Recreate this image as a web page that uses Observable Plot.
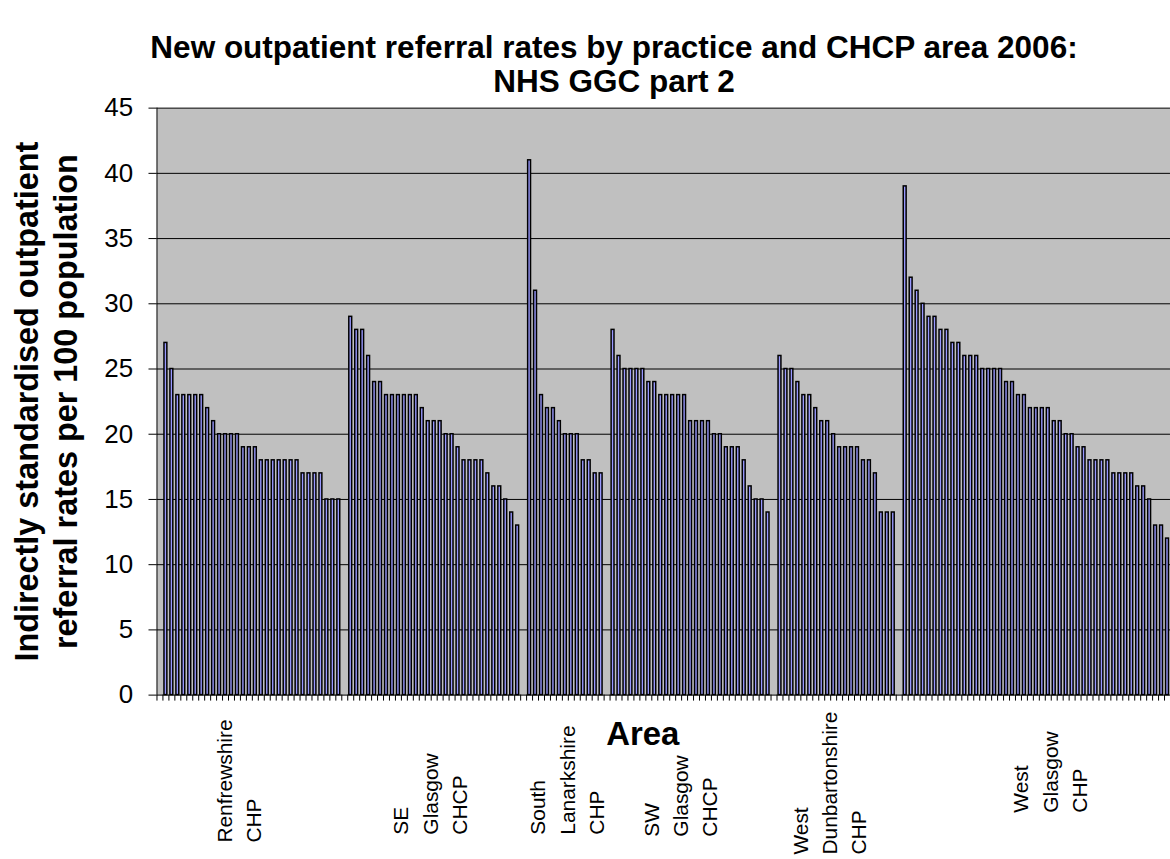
<!DOCTYPE html>
<html>
<head>
<meta charset="utf-8">
<script src="https://cdn.jsdelivr.net/npm/d3@7"></script>
<script src="https://cdn.jsdelivr.net/npm/@observablehq/plot@0.6"></script>
<style>
  html, body { margin: 0; padding: 0; background: #fff; overflow: hidden; }
  body { width: 1170px; height: 859px; position: relative; font-family: "Liberation Sans", Arial, sans-serif; }
  #title { position: absolute; left: 0; top: 30px; width: 1228px; text-align: center;
           font-weight: bold; font-size: 31.5px; line-height: 34px; color: #000; }
  #chart { position: absolute; left: 0; top: 0; }
</style>
</head>
<body>
<div id="title">New outpatient referral rates by practice and CHCP area 2006:<br>NHS GGC part 2</div>
<div id="chart"></div>
<script>
// ---- Data ----
const groups = ["Renfrewshire CHP", "SE Glasgow CHCP", "South Lanarkshire CHP", "SW Glasgow CHCP", "West Dunbartonshire CHP", "West Glasgow CHP"];
const groupLabels = ["Renfrewshire\nCHP", "SE\nGlasgow\nCHCP", "South\nLanarkshire\nCHP", "SW\nGlasgow\nCHCP", "West\nDunbartonshire\nCHP", "West\nGlasgow\nCHP"];
// practice row (within each area) that carries the area name as category label
const labelRow = [12, 13, 6, 11, 8, 24];

const renfrewshire = [27,25,23,23,23,23,23,22,21,20,20,20,20,19,19,19,18,18,18,18,18,18,18,17,17,17,17,15,15,15];
const seGlasgow = [29,28,28,26,24,24,23,23,23,23,23,23,22,21,21,21,20,20,19,18,18,18,18,17,16,16,15,14,13];
const southLanarkshire = [41,31,23,22,22,21,20,20,20,18,18,17,17];
const swGlasgow = [28,26,25,25,25,25,24,24,23,23,23,23,23,21,21,21,21,20,20,19,19,19,18,16,15,15,14];
const westDunbartonshire = [26,25,25,24,23,23,22,21,21,20,19,19,19,19,18,18,17,14,14,14];
const westGlasgow = [39,32,31,30,29,29,28,28,27,27,26,26,26,25,25,25,25,24,24,23,23,22,22,22,22,21,21,20,20,19,19,18,18,18,18,17,17,17,17,16,16,15,13,13,12];

const yTicks = [0,5,10,15,20,25,30,35,40,45];
const yTitle = "Indirectly standardised outpatient\nreferral rates per 100 population";
const xTitle = "Area";

// ---- Build category slots (one empty category before and between areas) ----
const groupValues = [renfrewshire, seGlasgow, southLanarkshire, swGlasgow, westDunbartonshire, westGlasgow];
let slot = 1;
const bars = [], labels = [];
groupValues.forEach((vals, g) => {
  vals.forEach((v, i) => {
    if (i === labelRow[g]) labels.push({slot, text: groupLabels[g], g});
    bars.push({slot, value: v, group: groups[g]});
    slot++;
  });
  if (g < groupValues.length - 1) slot++;
});
const nSlots = slot;

// ---- Layout: how far below the axis each area label block starts (px) ----
const labelDrop = [148, 140, 140, 142, 160, 118];

const labelMarks = labels.map(l =>
  Plot.text([l], {x: d => d.slot + 0.5, y: () => 0, text: "text", rotate: -90, textAnchor: "start",
                  lineAnchor: "middle", lineHeight: 1.4, fontSize: 21, fill: "#000", dy: labelDrop[l.g]})
);

const chart = Plot.plot({
  width: 1174,
  height: 859,
  marginTop: 108,
  marginBottom: 162,
  marginLeft: 157,
  marginRight: 0,
  style: {fontFamily: "'Liberation Sans', Arial, sans-serif", background: "transparent", color: "#000"},
  x: {domain: [0, nSlots], axis: null},
  y: {domain: [0, 45], axis: null},
  marks: [
    Plot.frame({fill: "#c0c0c0", stroke: "none"}),
    Plot.gridY(yTicks.filter(d => d > 0), {stroke: "#000", strokeOpacity: 1, strokeWidth: 1}),
    Plot.rectY(bars, {x1: "slot", x2: d => d.slot + 1, y: "value", insetLeft: 1.55, insetRight: 1.55,
                      fill: "#9999ff", stroke: "#000", strokeWidth: 1.5}),
    Plot.ruleX([0], {stroke: "#000"}),
    Plot.ruleY([0], {stroke: "#000"}),
    Plot.axisY({ticks: yTicks, tickSize: 8, tickPadding: 16, fontSize: 26, stroke: "#000", label: null}),
    Plot.axisX({ticks: d3.range(0, nSlots + 1), tickSize: 6, tickFormat: () => "", stroke: "#000", label: null}),
    ...labelMarks,
    Plot.text([yTitle], {frameAnchor: "left", rotate: -90, dx: -112, textAnchor: "middle", lineAnchor: "middle",
                         lineHeight: 1.18, fontSize: 32.5, fontWeight: "bold", fill: "#000"}),
    Plot.text([xTitle], {frameAnchor: "bottom", dx: -21, dy: 39, textAnchor: "middle", lineAnchor: "middle",
                         fontSize: 33, fontWeight: "bold", fill: "#000"})
  ]
});
document.getElementById("chart").appendChild(chart);
</script>
</body>
</html>
